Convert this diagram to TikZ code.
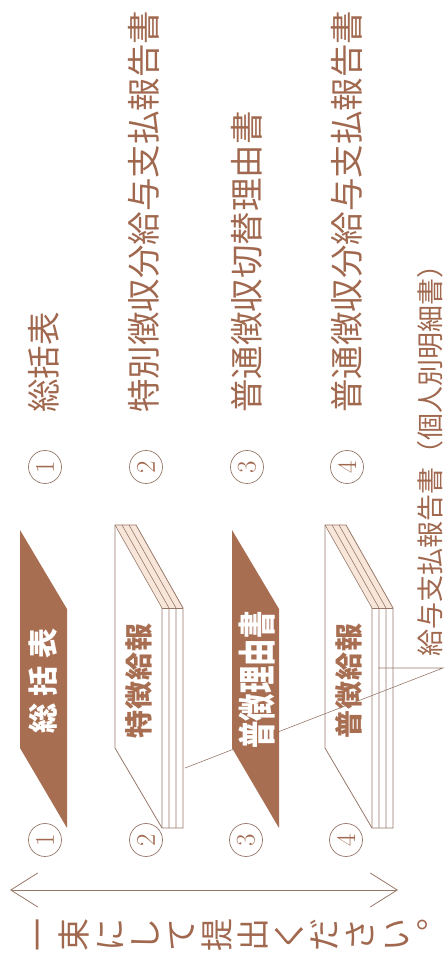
\documentclass[tikz,border=0pt]{standalone}
\usepackage{fontspec}
\usepackage{tikz}
\usetikzlibrary{arrows.meta}
\newfontfamily\jp{Noto Sans CJK JP}
\newfontfamily\jpcond{Noto Sans CJK JP}[FakeStretch=0.72]
\definecolor{bookbrown}{RGB}{168,110,82}
\definecolor{inkline}{RGB}{150,120,105}
\definecolor{txtbrown}{RGB}{160,104,78}
\definecolor{pagepeach}{RGB}{248,230,218}

\begin{document}
\begin{tikzpicture}[x=1pt,y=-1pt,rotate=90,transform shape,line width=0.8pt,
    num node/.style={circle,draw=inkline,line width=0.7pt,minimum size=33pt,inner sep=0pt,
                     text=txtbrown,font=\fontsize{27}{29}\selectfont},
    item text/.style={anchor=west,inner sep=0pt,text=txtbrown,text height=29pt,text depth=5pt,
                      font=\jp\fontsize{33.5}{36}\selectfont},
    note text/.style={anchor=west,inner sep=0pt,text=txtbrown,text height=23pt,text depth=4pt,
                      font=\jp\fontsize{27}{30}\selectfont},
    dark label/.style={inner sep=0pt,text=white,font=\jp\bfseries\fontsize{30}{32}\selectfont},
    cond label/.style={inner sep=0pt,text=white,font=\jpcond\bfseries\fontsize{38}{40}\selectfont},
    light label/.style={inner sep=0pt,text=bookbrown,font=\jp\bfseries\fontsize{28}{30}\selectfont},
    vert char/.style={inner sep=0pt,text=txtbrown,text height=28pt,text depth=5pt,
                      font=\jp\fontsize{33}{36}\selectfont},
    barb/.tip={Straight Barb[length=27pt,width=34pt]}]
  \useasboundingbox (0,0) rectangle (963,446);

  % list of forms
  \node[num node] (l1) at (496,45) {1};
  \node[num node] (l2) at (496,146) {2};
  \node[num node] (l3) at (496,247) {3};
  \node[num node] (l4) at (496,347) {4};
  \node[item text] (t1) at (550,44) {総括表};
  \node[item text] (t2) at (550,144) {特別徴収分給与支払報告書};
  \node[item text] (t3) at (550,247) {普通徴収切替理由書};
  \node[item text] (t4) at (550,347) {普通徴収分給与支払報告書};

  % leader to the stacks
  \node[note text] (note) at (306,431) {給与支払報告書（個人別明細書）};
  \coordinate (lj) at (295,443);
  \coordinate (p2) at (195,185);
  \coordinate (p4) at (295,378);
  \draw[inkline,line width=0.6pt] (p2) -- (lj) -- (p4);

  % filled sheets
  \foreach \t in {20,232}
    \fill[bookbrown] (215,\t) -- (433,\t) -- (354,\t+47) -- (135,\t+47) -- cycle;

  % stacks of sheets
  \foreach \t in {115,325} {
    \fill[pagepeach] (438,\t) -- (438,\t+21) -- (355,\t+68) -- (355,\t+47) -- cycle;
    \draw[inkline] (215,\t) -- (438,\t) -- (438,\t+21) -- (355,\t+68) -- (135,\t+68)
      -- (135,\t+47) -- cycle;
    \foreach \d in {0,7,14}
      \draw[inkline,line width=0.6pt] (438,\t+\d) -- (355,\t+47+\d) -- (135,\t+47+\d);
    \draw[inkline,line width=0.6pt] (355,\t+47) -- (355,\t+68);
  }

  \node[dark label] (b1) at (282,43) {総\hspace{8pt}括\hspace{8pt}表};
  \node[light label] (b2) at (282,139) {特\hspace{1pt}徴\hspace{1pt}給\hspace{1pt}報};
  \node[cond label] (b3) at (283,257) {普徴理由書};
  \node[light label] (b4) at (282,349) {普\hspace{1pt}徴\hspace{1pt}給\hspace{1pt}報};

  % numbers under the stacks
  \node[num node] (n1) at (123,45) {1};
  \node[num node] (n2) at (123,146) {2};
  \node[num node] (n3) at (123,246) {3};
  \node[num node] (n4) at (123,346) {4};

  % bundle arrow
  \coordinate (atop) at (73,10);
  \coordinate (abot) at (73,398);
  \draw[inkline,barb-barb] (atop) -- (abot);

  \foreach \c [count=\i] in {一,束,に,し,て,提,出,く,だ,さ,い,︒}
    \node[vert char] (v\i) at (28,{39+(\i-1)*35.8}) {\c};
\end{tikzpicture}
\end{document}
